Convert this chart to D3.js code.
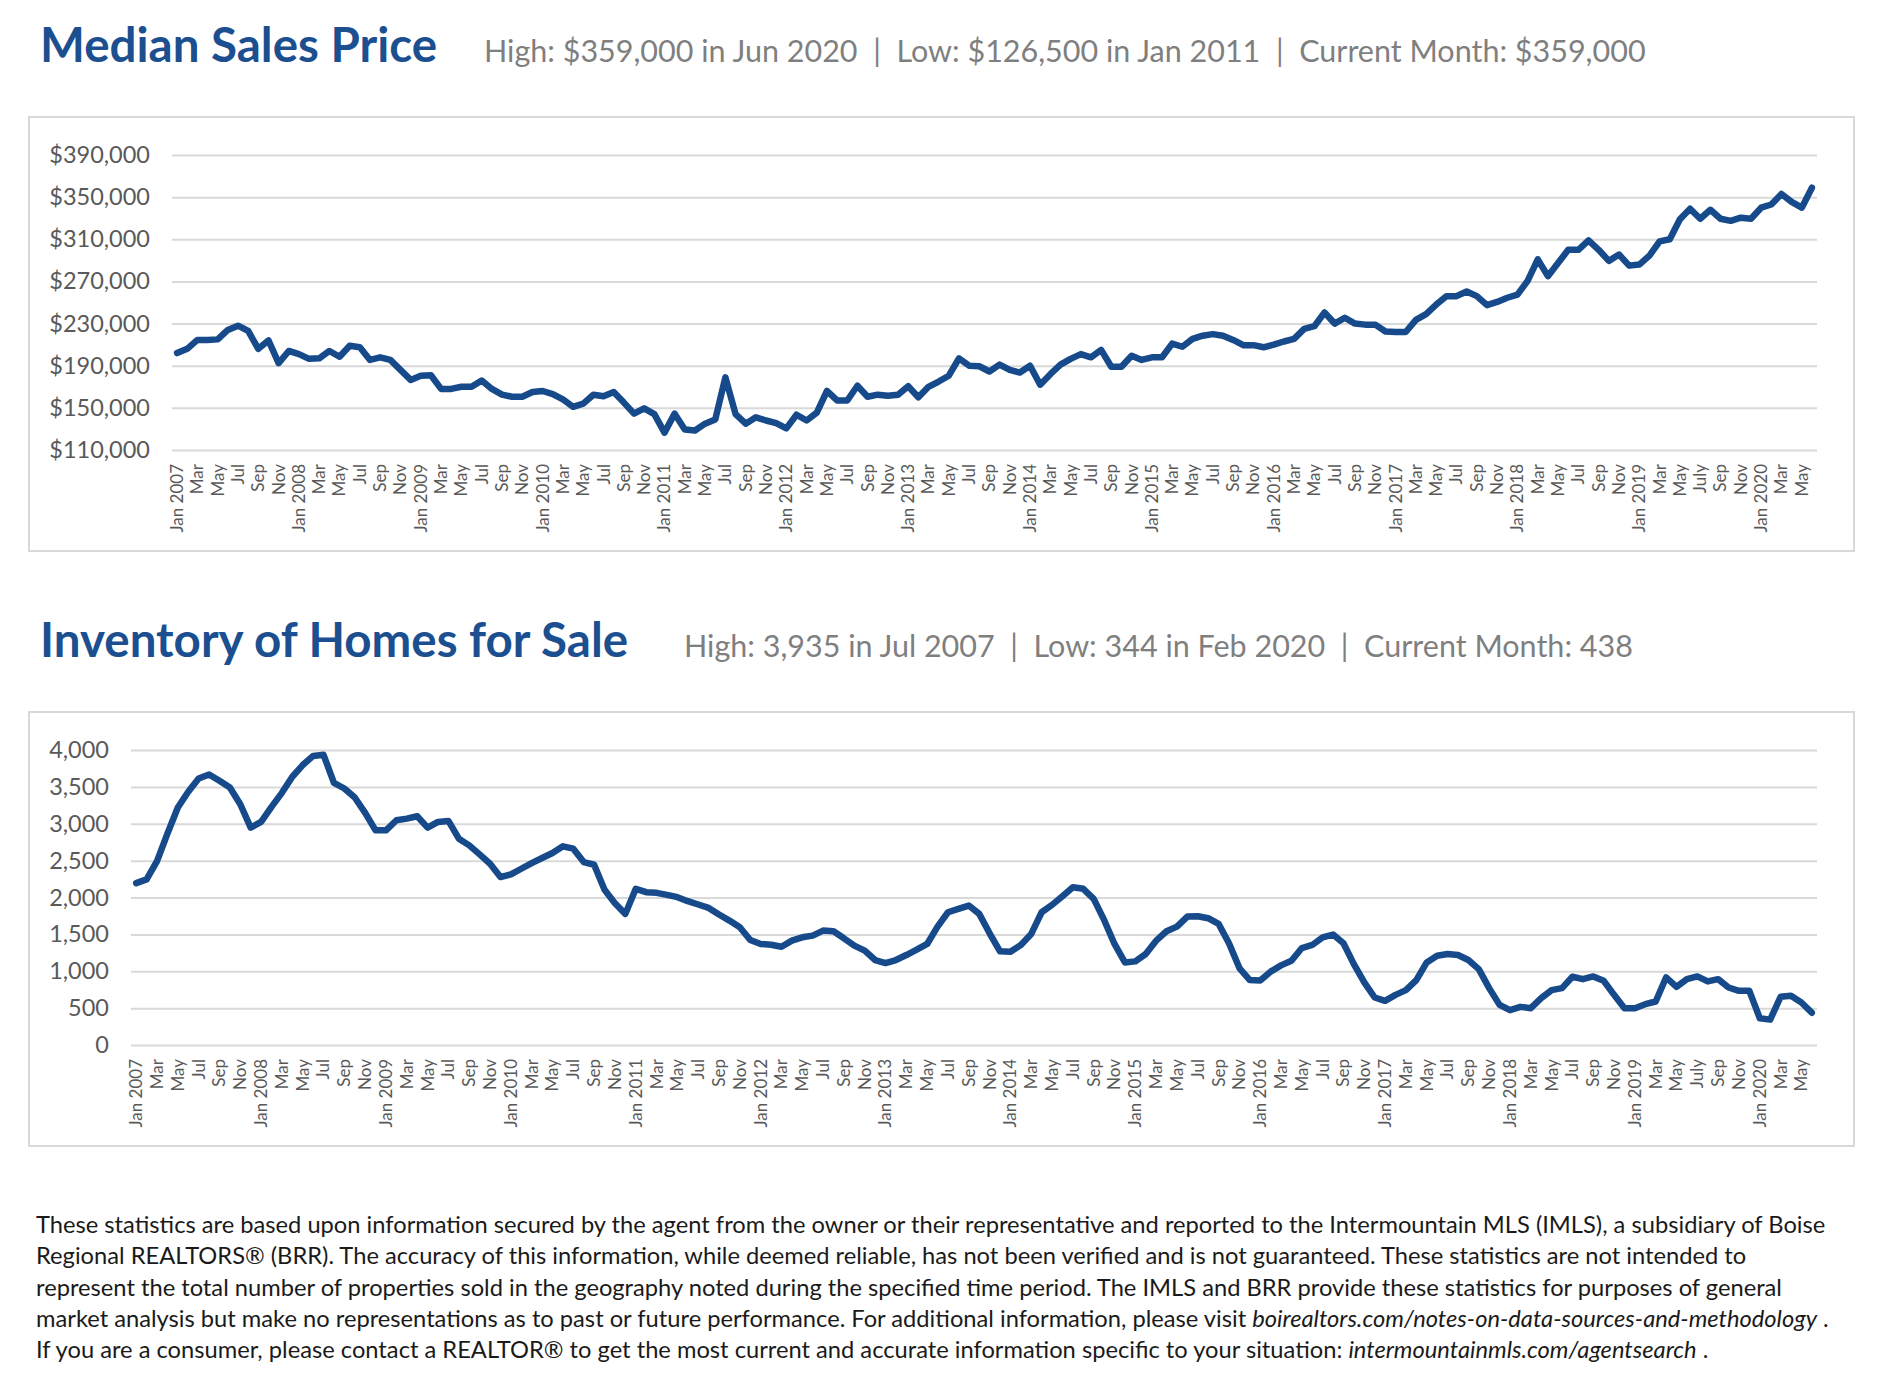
<!DOCTYPE html>
<html>
<head>
<meta charset="utf-8">
<script src="https://cdn.jsdelivr.net/npm/d3@7"></script>
<style>
  body { margin: 0; background: #fff; }
  svg { font-family: Lato, "Open Sans", sans-serif; }
  .grid line { stroke: #d9d9d9; stroke-width: 2; }
  .tick text { fill: #595959; }
</style>
</head>
<body>
<div class="page"></div>
<script>
// monthly series Jan 2007 .. Jun 2020 (162 months)
const startYear = 2007;
const monthAbbr = ["Jan", "Feb", "Mar", "Apr", "May", "Jun", "Jul", "Aug", "Sep", "Oct", "Nov", "Dec"];
const labelOverrides = { 150: "July" };   // the source spells out Jul 2019

const priceValues = [
  202000, 206000, 214500, 214500, 215000, 224000, 228000, 223000, 206000, 214000, 192500, 204000,
  201000, 196500, 197000, 204000, 198500, 209000, 207500, 195500, 198000, 195500, 186000, 176500,
  180500, 181000, 168000, 168000, 170000, 170000, 176000, 168000, 162500, 160500, 160500, 165000,
  166000, 163000, 158000, 151000, 154000, 162500, 161000, 165000, 155000, 144500, 149500, 144000,
  126500, 144500, 129500, 128500, 135000, 139000, 179000, 144000, 135000, 141000, 138000, 135500,
  130500, 143500, 138000, 145500, 166000, 157000, 157000, 171000, 160500, 162500, 161500, 162500,
  170500, 160000, 170000, 175000, 180500, 197000, 190000, 189500, 184500, 191000, 186000, 183500,
  190000, 172000, 182000, 191000, 196500, 201000, 198000, 205000, 189000, 189000, 199500, 195500,
  198000, 198000, 211000, 208000, 215500, 218500, 220000, 218500, 214500, 209500, 209500, 207500,
  210000, 213000, 215500, 225000, 227500, 240500, 230000, 235500, 230000, 229000, 229000, 222500,
  222000, 222000, 233500, 239000, 248000, 256000, 256000, 260500, 256000, 247500, 250500, 254500,
  257500, 270500, 291000, 275000, 287500, 300000, 300000, 309000, 300000, 289500, 295500, 285000,
  286000, 294500, 308000, 310000, 329000, 339000, 329500, 338000, 329500, 327500, 330500, 329500,
  340000, 343000, 353000, 345500, 340000, 359000
];

const inventoryValues = [
  2195, 2245, 2494, 2866, 3220, 3433, 3614, 3669, 3583, 3492, 3265, 2948,
  3025, 3229, 3419, 3637, 3796, 3920, 3935, 3555, 3478, 3356, 3147, 2911,
  2911, 3047, 3070, 3102, 2948, 3025, 3038, 2798, 2707, 2585, 2458, 2277,
  2313, 2390, 2467, 2535, 2603, 2694, 2662, 2481, 2444, 2104, 1923, 1778,
  2118, 2072, 2063, 2036, 2004, 1950, 1905, 1859, 1769, 1687, 1596, 1424,
  1370, 1360, 1333, 1415, 1460, 1483, 1551, 1542, 1447, 1347, 1279, 1152,
  1111, 1152, 1220, 1292, 1370, 1605, 1800, 1846, 1891, 1778, 1515, 1270,
  1265, 1356, 1506, 1800, 1900, 2018, 2140, 2118, 1982, 1696, 1370, 1120,
  1134, 1234, 1415, 1542, 1605, 1741, 1746, 1719, 1642, 1379, 1043, 880,
  875, 995, 1080, 1143, 1315, 1356, 1460, 1497, 1379, 1097, 848, 644,
  599, 680, 744, 880, 1120, 1211, 1234, 1220, 1152, 1029, 771, 544,
  472, 517, 499, 635, 744, 771, 925, 893, 930, 871, 680, 499,
  499, 553, 590, 916, 789, 893, 930, 862, 893, 780, 735, 735,
  363, 344, 653, 667, 576, 438
];

const priceTicks = [110000, 150000, 190000, 230000, 270000, 310000, 350000, 390000];
const inventoryTicks = [0, 500, 1000, 1500, 2000, 2500, 3000, 3500, 4000];

const priceSummary = ["High: $359,000 in Jun 2020", "Low: $126,500 in Jan 2011", "Current Month: $359,000"];
const inventorySummary = ["High: 3,935 in Jul 2007", "Low: 344 in Feb 2020", "Current Month: 438"];

const footnoteLines = [
  ["These statistics are based upon information secured by the agent from the owner or their representative and reported to the Intermountain MLS (IMLS), a subsidiary of Boise"],
  ["Regional REALTORS® (BRR). The accuracy of this information, while deemed reliable, has not been verified and is not guaranteed. These statistics are not intended to"],
  ["represent the total number of properties sold in the geography noted during the specified time period. The IMLS and BRR provide these statistics for purposes of general"],
  ["market analysis but make no representations as to past or future performance. For additional information, please visit ", "boirealtors.com/notes-on-data-sources-and-methodology", " ."],
  ["If you are a consumer, please contact a REALTOR® to get the most current and accurate information specific to your situation: ", "intermountainmls.com/agentsearch", " ."]
];

// label for every month index: "Jan 2007", "Mar", ...
const tickLabels = priceValues.map((d, i) => {
  if (labelOverrides[i]) return labelOverrides[i];
  const m = i % 12;
  return m === 0 ? `Jan ${startYear + i / 12}` : monthAbbr[m];
});

const width = 1884, height = 1390;
const titleColour = "#1c4f90", lineColour = "#174a8b";
const plotRight = 1817;

const svg = d3.select(".page").append("svg")
  .attr("width", width)
  .attr("height", height);

svg.append("rect").attr("width", width).attr("height", height).attr("fill", "#fff");

const drawPanel = (opts) => {
  const g = svg.append("g").attr("transform", `translate(0, ${opts.top})`);

  // heading
  g.append("text")
    .text(opts.title)
    .attr("x", 40).attr("y", 62)
    .attr("font-size", 47.5).attr("font-weight", 700)
    .attr("fill", titleColour);

  g.append("text")
    .text(opts.summary.join("  |  "))
    .attr("x", opts.summaryX).attr("y", 62)
    .attr("font-size", 30.5)
    .attr("fill", "#7f7f7f")
    .style("white-space", "pre");

  // frame
  g.append("rect")
    .attr("x", 29).attr("y", 117)
    .attr("width", 1825).attr("height", 434)
    .attr("fill", "none")
    .attr("stroke", "#d9d9d9")
    .attr("stroke-width", 2);

  const x = d3.scaleBand()
    .domain(d3.range(opts.values.length))
    .range([opts.left, plotRight]);

  const y = d3.scaleLinear()
    .domain(d3.extent(opts.ticks))
    .range([450, 155]);

  // y axis with gridlines
  const yAxis = g.append("g")
    .attr("class", "grid")
    .attr("transform", `translate(${opts.left}, 0)`)
    .call(d3.axisLeft(y)
      .tickValues(opts.ticks)
      .tickFormat(opts.format)
      .tickSize(-(plotRight - opts.left))
      .tickPadding(22))
    .attr("font-family", null);
  yAxis.select(".domain").remove();
  yAxis.selectAll(".tick text").attr("font-size", 23.5);

  // x axis: every other month, rotated
  const xAxis = g.append("g")
    .attr("transform", "translate(0, 450)")
    .call(d3.axisBottom(x)
      .tickValues(d3.range(0, opts.values.length, 2))
      .tickFormat((i) => tickLabels[i])
      .tickSize(0))
    .attr("font-family", null);
  xAxis.select(".domain").remove();
  xAxis.selectAll(".tick text")
    .attr("x", 0).attr("y", 0)
    .attr("dy", "0.35em")
    .attr("transform", "translate(0, 14) rotate(-90)")
    .attr("text-anchor", "end")
    .attr("font-size", 17);

  const line = d3.line()
    .x((d, i) => x(i) + x.bandwidth() / 2)
    .y((d) => y(d));

  g.append("path")
    .datum(opts.values)
    .attr("d", line)
    .attr("fill", "none")
    .attr("stroke", lineColour)
    .attr("stroke-width", 6.5)
    .attr("stroke-linejoin", "round")
    .attr("stroke-linecap", "round");
};

drawPanel({
  top: 0,
  title: "Median Sales Price",
  summary: priceSummary,
  summaryX: 484,
  values: priceValues,
  ticks: priceTicks,
  format: d3.format("$,"),
  left: 172
});

drawPanel({
  top: 595,
  title: "Inventory of Homes for Sale",
  summary: inventorySummary,
  summaryX: 684,
  values: inventoryValues,
  ticks: inventoryTicks,
  format: d3.format(","),
  left: 131
});

// footnote
const note = svg.append("g").attr("font-size", 23.7).attr("fill", "#1a1a1a");
footnoteLines.forEach((parts, row) => {
  const t = note.append("text")
    .attr("x", 36)
    .attr("y", 1233 + row * 31.3)
    .style("white-space", "pre");
  parts.forEach((s, k) => {
    t.append("tspan").text(s).attr("font-style", k === 1 ? "italic" : null);
  });
});
</script>
</body>
</html>
